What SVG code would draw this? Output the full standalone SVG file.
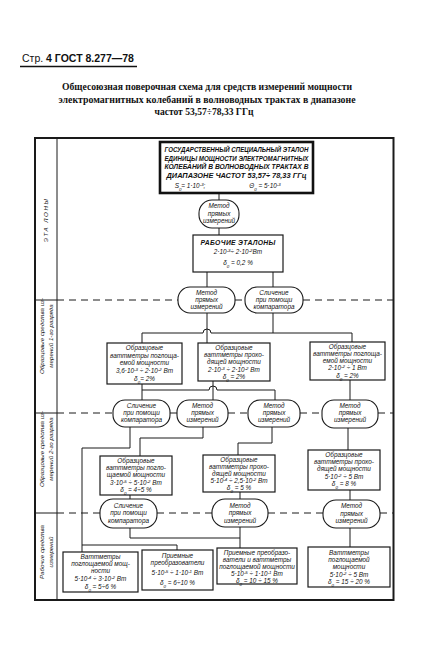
<svg xmlns="http://www.w3.org/2000/svg" width="425" height="665" viewBox="0 0 425 665">
<style>
.bg{fill:#fff}
.fr{fill:none;stroke:#1a1a1a;stroke-width:2}
.bx{fill:#fff;stroke:#1a1a1a;stroke-width:1.2}
.ov{fill:#fff;stroke:#1a1a1a;stroke-width:1.1}
.ln{fill:none;stroke:#1a1a1a;stroke-width:1}
.ds{fill:none;stroke:#1a1a1a;stroke-width:1;stroke-dasharray:7 5}
.hd{font-family:"Liberation Sans",sans-serif;font-size:10.5px;fill:#111}
.tt{font-family:"Liberation Serif",serif;font-weight:bold;font-size:9.5px;fill:#111;text-anchor:middle}
.tb{font-family:"Liberation Sans",sans-serif;font-style:italic;font-weight:bold;font-size:6.8px;fill:#111;text-anchor:middle}
.t{font-family:"Liberation Sans",sans-serif;font-style:italic;font-size:6.4px;fill:#111;text-anchor:middle}
.lc{font-family:"Liberation Sans",sans-serif;font-style:italic;font-size:6.2px;fill:#111;text-anchor:middle}
.s{baseline-shift:super;font-size:4.4px}
.u{baseline-shift:sub;font-size:4.4px}
</style>
<rect class="bg" x="0" y="0" width="425" height="665"/>
<g id="header">
<text class="hd" x="22" y="62">Стр. <tspan font-weight="bold">4 ГОСТ 8.277—78</tspan></text>
<line x1="20" y1="66.5" x2="137" y2="66.5" stroke="#111" stroke-width="1.5"/>
<text class="tt" x="207" y="90" textLength="290" lengthAdjust="spacingAndGlyphs">Общесоюзная поверочная схема для средств измерений мощности</text>
<text class="tt" x="207" y="102.5" textLength="297" lengthAdjust="spacingAndGlyphs">электромагнитных колебаний в волноводных трактах в диапазоне</text>
<text class="tt" x="204" y="115" textLength="99" lengthAdjust="spacingAndGlyphs">частот 53,57÷78,33 ГГц</text>
</g>
<g id="frame">
<rect class="fr" x="35" y="138" width="358.5" height="462"/>
<line class="ln" x1="57" y1="138" x2="57" y2="600"/>
<line class="ln" x1="35" y1="300" x2="57" y2="300"/>
<line class="ln" x1="35" y1="413" x2="57" y2="413"/>
<line class="ln" x1="35" y1="513" x2="57" y2="513"/>
<text class="lc" transform="translate(48,220) rotate(-90)" letter-spacing="1.5">ЭТА ЛОНЫ</text>
<text class="lc" transform="translate(44,336) rotate(-90)">Образцовые средства из-</text>
<text class="lc" transform="translate(52.5,336) rotate(-90)">мерений 1-го разряда</text>
<text class="lc" transform="translate(44,449) rotate(-90)">Образцовые средства из-</text>
<text class="lc" transform="translate(52.5,449) rotate(-90)">мерений 2-го разряда</text>
<text class="lc" transform="translate(44,552) rotate(-90)">Рабочие средства</text>
<text class="lc" transform="translate(52.5,552) rotate(-90)">измерений</text>
</g>
<g id="connectors">
<path class="ds" d="M57 300H178M235 300H245M303 300H393"/>
<path class="ds" d="M57 413H113M228 413H248M300 413H322M378 413H393"/>
<path class="ln" d="M170 413H177"/>
<path class="ds" d="M57 513H100M157 513H212M268 513H323M380 513H393"/>
<path class="ln" d="M219 193V200M219 228V235"/>
<path class="ln" d="M207 272V287M273 272V287"/>
<path class="ln" d="M207 313V343M273 313V333M142 343V333H203A4 4 0 0 1 211 333H352V342"/>
<path class="ln" d="M142 384V400M213 381V401M142 390H209A4 4 0 0 1 217 390H275V400M350 380V400"/>
<path class="ln" d="M130 427V448H82V552M82 545H177V550"/>
<path class="ln" d="M203 427V438H140V456M272 427V443H238V455M348 428V450"/>
<path class="ln" d="M130 495V499M240 492V499M350 490V500"/>
<path class="ln" d="M130 528V538H240M240 527V548M350 528V547"/>
</g>
<g id="state-standard">
<rect x="160" y="142" width="153" height="51" fill="#fff" stroke="#111" stroke-width="2.6"/>
<text class="tb" x="236.5" y="152" textLength="144" lengthAdjust="spacingAndGlyphs">ГОСУДАРСТВЕННЫЙ СПЕЦИАЛЬНЫЙ ЭТАЛОН</text>
<text class="tb" x="236.5" y="160.5" textLength="144" lengthAdjust="spacingAndGlyphs">ЕДИНИЦЫ МОЩНОСТИ ЭЛЕКТРОМАГНИТНЫХ</text>
<text class="tb" x="236.5" y="169" textLength="144" lengthAdjust="spacingAndGlyphs">КОЛЕБАНИЙ В ВОЛНОВОДНЫХ ТРАКТАХ В</text>
<text class="tb" x="236.5" y="177.5" textLength="140" lengthAdjust="spacingAndGlyphs">ДИАПАЗОНЕ ЧАСТОТ 53,57÷ 78,33 ГГц</text>
<text class="t" x="190" y="187.5" font-size="7">S<tspan class="u">0</tspan>= 1·10<tspan class="s">-3</tspan>;</text>
<text class="t" x="265" y="187.5" font-size="7">Θ<tspan class="u">0</tspan> = 5·10<tspan class="s">-3</tspan></text>
</g>
<g id="oval-direct-top">
<rect class="ov" x="199" y="200" width="40" height="28" rx="13"/>
<text class="t" x="219" y="208">Метод</text>
<text class="t" x="219" y="215.5">прямых</text>
<text class="t" x="219" y="223">измерений</text>
</g>
<g id="working-standards">
<rect class="bx" x="193" y="235" width="90" height="37"/>
<text class="tb" x="238" y="244.5" letter-spacing="0.3">РАБОЧИЕ  ЭТАЛОНЫ</text>
<text class="t" x="238" y="254">2·10<tspan class="s">-3</tspan>÷ 2·10<tspan class="s">-2</tspan>Вт</text>
<text class="t" x="238" y="265">δ<tspan class="u">0</tspan> = 0,2 %</text>
</g>
<g id="oval-a1">
<rect class="ov" x="178" y="287" width="57" height="26" rx="12"/>
<text class="t" x="206.5" y="295">Метод</text>
<text class="t" x="206.5" y="302">прямых</text>
<text class="t" x="206.5" y="309">измерений</text>
</g>
<g id="oval-a2">
<rect class="ov" x="245" y="287" width="58" height="26" rx="12"/>
<text class="t" x="274" y="295">Сличение</text>
<text class="t" x="274" y="302">при помощи</text>
<text class="t" x="274" y="309">компаратора</text>
</g>
<g id="box-1a">
<rect class="bx" x="107" y="343" width="75" height="41"/>
<text class="t" x="144.5" y="350">Образцовые</text>
<text class="t" x="144.5" y="357.5">ваттметры поглоща-</text>
<text class="t" x="144.5" y="365">емой мощности</text>
<text class="t" x="144.5" y="373">3,6·10<tspan class="s">-3</tspan> ÷ 2·10<tspan class="s">-2</tspan> Вт</text>
<text class="t" x="144.5" y="381">δ<tspan class="u">0</tspan>= 2%</text>
</g>
<g id="box-1b">
<rect class="bx" x="198" y="343" width="72" height="38"/>
<text class="t" x="234" y="350">Образцовые</text>
<text class="t" x="234" y="357">ваттметры прохо-</text>
<text class="t" x="234" y="364">дящей мощности</text>
<text class="t" x="234" y="371.5">2·10<tspan class="s">-3</tspan> ÷ 2·10<tspan class="s">-2</tspan> Вт</text>
<text class="t" x="234" y="379">δ<tspan class="u">0</tspan> = 2%</text>
</g>
<g id="box-1c">
<rect class="bx" x="310" y="342" width="75" height="38"/>
<text class="t" x="347.5" y="349">Образцовые</text>
<text class="t" x="347.5" y="356">ваттметры поглоща-</text>
<text class="t" x="347.5" y="363">емой мощности</text>
<text class="t" x="347.5" y="370">2·10<tspan class="s">-2</tspan> ÷ 1 Вт</text>
<text class="t" x="347.5" y="377.5">δ<tspan class="u">0</tspan> = 2%</text>
</g>
<g id="oval-b1">
<rect class="ov" x="113" y="400" width="57" height="27" rx="12"/>
<text class="t" x="141.5" y="408">Сличение</text>
<text class="t" x="141.5" y="415">при помощи</text>
<text class="t" x="141.5" y="422">компаратора</text>
</g>
<g id="oval-b2">
<rect class="ov" x="177" y="400" width="51" height="27" rx="12"/>
<text class="t" x="202.5" y="408">Метод</text>
<text class="t" x="202.5" y="415">прямых</text>
<text class="t" x="202.5" y="422">измерений</text>
</g>
<g id="oval-b3">
<rect class="ov" x="248" y="400" width="52" height="27" rx="12"/>
<text class="t" x="274" y="408">Метод</text>
<text class="t" x="274" y="415">прямых</text>
<text class="t" x="274" y="422">измерений</text>
</g>
<g id="oval-b4">
<rect class="ov" x="322" y="400" width="56" height="28" rx="12"/>
<text class="t" x="350" y="408">Метод</text>
<text class="t" x="350" y="415">прямых</text>
<text class="t" x="350" y="422">измерений</text>
</g>
<g id="box-2a">
<rect class="bx" x="100" y="456" width="72" height="39"/>
<text class="t" x="136" y="463">Образцовые</text>
<text class="t" x="136" y="470">ваттметры погло-</text>
<text class="t" x="136" y="477">щаемой мощности</text>
<text class="t" x="136" y="484.5">3·10<tspan class="s">-5</tspan> ÷ 5·10<tspan class="s">-2</tspan> Вт</text>
<text class="t" x="136" y="492">δ<tspan class="u">0</tspan> = 4÷5 %</text>
</g>
<g id="box-2b">
<rect class="bx" x="203" y="455" width="72" height="37"/>
<text class="t" x="239" y="462">Образцовые</text>
<text class="t" x="239" y="469">ваттметры прохо-</text>
<text class="t" x="239" y="476">дящей мощности</text>
<text class="t" x="239" y="483">5·10<tspan class="s">-4</tspan> ÷ 2,5·10<tspan class="s">-2</tspan> Вт</text>
<text class="t" x="239" y="490">δ<tspan class="u">0</tspan> = 5 %</text>
</g>
<g id="box-2c">
<rect class="bx" x="308" y="450" width="72" height="40"/>
<text class="t" x="344" y="457">Образцовые</text>
<text class="t" x="344" y="464">ваттметры прохо-</text>
<text class="t" x="344" y="471">дящей мощности</text>
<text class="t" x="344" y="478.5">5·10<tspan class="s">-2</tspan> ÷ 5 Вт</text>
<text class="t" x="344" y="486">δ<tspan class="u">0</tspan> = 8 %</text>
</g>
<g id="oval-c1">
<rect class="ov" x="100" y="499" width="57" height="29" rx="13"/>
<text class="t" x="128.5" y="507.5">Сличение</text>
<text class="t" x="128.5" y="515">при помощи</text>
<text class="t" x="128.5" y="522.5">компаратора</text>
</g>
<g id="oval-c2">
<rect class="ov" x="212" y="499" width="56" height="28" rx="13"/>
<text class="t" x="240" y="507.5">Метод</text>
<text class="t" x="240" y="515">прямых</text>
<text class="t" x="240" y="522.5">измерений</text>
</g>
<g id="oval-c3">
<rect class="ov" x="323" y="500" width="57" height="28" rx="13"/>
<text class="t" x="351.5" y="508">Метод</text>
<text class="t" x="351.5" y="515.5">прямых</text>
<text class="t" x="351.5" y="523">измерений</text>
</g>
<g id="box-3a">
<rect class="bx" x="63" y="552" width="75" height="40"/>
<text class="t" x="100.5" y="559">Ваттметры</text>
<text class="t" x="100.5" y="566">поглощаемой мощ-</text>
<text class="t" x="100.5" y="573">ности</text>
<text class="t" x="100.5" y="581">5·10<tspan class="s">-4</tspan> ÷ 3·10<tspan class="s">-2</tspan> Вт</text>
<text class="t" x="100.5" y="589">δ<tspan class="u">0</tspan> = 5÷6 %</text>
</g>
<g id="box-3b">
<rect class="bx" x="142" y="550" width="71" height="40"/>
<text class="t" x="177.5" y="558">Приемные</text>
<text class="t" x="177.5" y="565">преобразователи</text>
<text class="t" x="177.5" y="575">5·10<tspan class="s">-5</tspan> ÷ 1·10<tspan class="s">-1</tspan> Вт</text>
<text class="t" x="177.5" y="585">δ<tspan class="u">0</tspan> = 6÷10 %</text>
</g>
<g id="box-3c">
<rect class="bx" x="217" y="548" width="80" height="36"/>
<text class="t" x="257" y="555">Приемные преобразо-</text>
<text class="t" x="257" y="562">ватели и ваттметры</text>
<text class="t" x="257" y="569">поглощаемой мощности</text>
<text class="t" x="257" y="576">5·10<tspan class="s">-5</tspan> ÷ 1·10<tspan class="s">-1</tspan> Вт</text>
<text class="t" x="257" y="582.5">δ<tspan class="u">0</tspan> = 10 ÷ 15 %</text>
</g>
<g id="box-3d">
<rect class="bx" x="308" y="547" width="82" height="40"/>
<text class="t" x="349" y="554.5">Ваттметры</text>
<text class="t" x="349" y="561.5">поглощаемой</text>
<text class="t" x="349" y="568.5">мощности</text>
<text class="t" x="349" y="576.5">5·10<tspan class="s">-2</tspan> ÷ 5 Вт</text>
<text class="t" x="349" y="584">δ<tspan class="u">0</tspan> = 15 ÷ 20 %</text>
</g>
</svg>
